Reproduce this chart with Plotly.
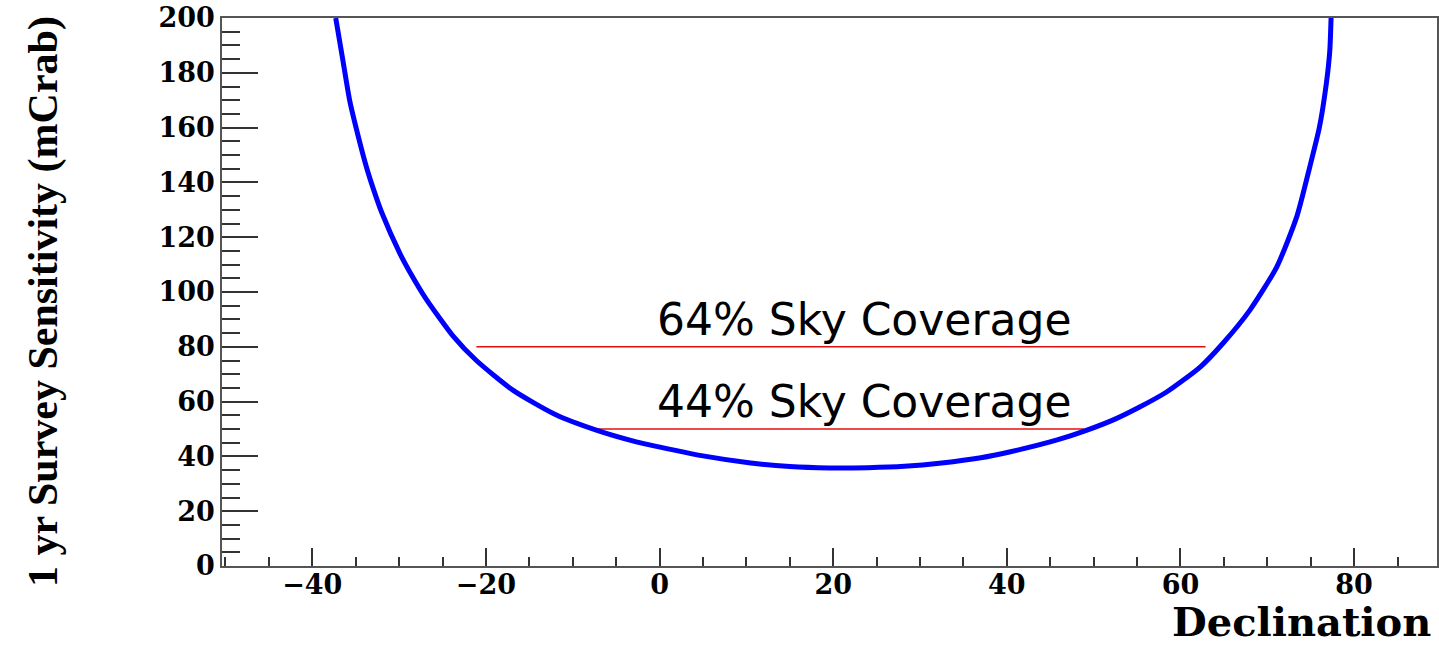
import plotly.graph_objects as go

# Sensitivity curve
declination = [-37.3, -36.5, -35.7, -34.8, -33.8, -32.9, -32.0, -29.9, -28.8, -26.9,
               -23.8, -21.1, -16.9, -12.0, -7.2, -3.0, 1.7, 5.0,
               10.5, 15.0, 19.5, 24.0, 28.2, 32.5, 37.0, 40.3, 45.8, 49.0,
               52.4, 55.3, 58.4, 62.3, 64.9, 68.0, 71.1, 73.4, 74.9,
               76.0, 76.8, 77.2, 77.35]
sensitivity = [200, 185, 170, 158, 146, 137, 129, 114, 107.5, 97.5,
               84, 75, 64.2, 55.3, 49.5, 45.6, 42.3, 40.2,
               37.6, 36.3, 35.8, 35.9, 36.4, 37.6, 39.5, 41.6, 46.0, 49.3,
               53.5, 58.0, 63.5, 72.7, 81.3, 93.4, 109.2, 127.5, 145.7,
               160.0, 176.0, 188.0, 200.0]

# Sky-coverage reference lines
cov64_x = [-21.1, 62.9]
cov64_y = [80, 80]
cov44_x = [-7.1, 48.9]
cov44_y = [50, 50]
labels = ["64% Sky Coverage", "44% Sky Coverage"]
label_x = [23.5, 23.6]
label_y = [90.0, 60.0]

x_ticks = [-40, -20, 0, 20, 40, 60, 80]
y_ticks = [0, 20, 40, 60, 80, 100, 120, 140, 160, 180, 200]

fig = go.Figure()
fig.add_trace(go.Scatter(x=cov64_x, y=cov64_y, mode="lines",
                         line=dict(color="#e01010", width=1.5), showlegend=False))
fig.add_trace(go.Scatter(x=cov44_x, y=cov44_y, mode="lines",
                         line=dict(color="#e01010", width=1.5), showlegend=False))
fig.add_trace(go.Scatter(x=declination, y=sensitivity, mode="lines",
                         line=dict(color="#0000ff", width=5, shape="spline", smoothing=0.6),
                         showlegend=False))

for t, xx, yy in zip(labels, label_x, label_y):
    fig.add_annotation(x=xx, y=yy, xref="x", yref="y", text=t, showarrow=False,
                       xanchor="center", yanchor="middle",
                       font=dict(family="DejaVu Sans", size=44, color="black"))

fig.add_annotation(x=1, y=0, xref="paper", yref="paper", text="Declination",
                   showarrow=False, xanchor="right", yanchor="middle",
                   xshift=-4, yshift=-55,
                   font=dict(family="DejaVu Serif", size=40, color="black", weight="bold"))
fig.add_annotation(x=0, y=0.4818, xref="paper", yref="paper",
                   text="1 yr Survey Sensitivity (mCrab)", showarrow=False,
                   textangle=-90, xanchor="center", yanchor="middle", xshift=-178,
                   font=dict(family="Liberation Serif", size=42, color="black", weight="bold"))

axis_font = dict(family="DejaVu Serif", size=27, color="black", weight="bold")
fig.update_xaxes(range=[-50.4, 89.55], tickvals=x_ticks, ticks="inside", ticklen=18,
                 tickwidth=1.5, tickcolor="#333", showline=True, linecolor="#555",
                 linewidth=1.5, mirror=True, showgrid=False, zeroline=False,
                 tickfont=axis_font, automargin=False, ticklabelstandoff=-6,
                 minor=dict(dtick=5, tick0=0, ticks="inside", ticklen=9,
                            tickwidth=1.5, tickcolor="#333", showgrid=False))
fig.update_yaxes(range=[0, 200], tickvals=y_ticks, ticks="inside", ticklen=36,
                 tickwidth=1.5, tickcolor="#333", showline=True, linecolor="#555",
                 linewidth=1.5, mirror=True, showgrid=False, zeroline=False,
                 tickfont=axis_font, automargin=False,
                 minor=dict(dtick=5, tick0=0, ticks="inside", ticklen=18,
                            tickwidth=1.5, tickcolor="#333", showgrid=False))

fig.update_layout(width=1439, height=645, plot_bgcolor="white", paper_bgcolor="white",
                  margin=dict(l=222, r=2, t=18, b=79, autoexpand=False), showlegend=False)

fig.write_html("out.html", config={"displayModeBar": False},
               post_script="document.body.style.margin='0px';document.body.style.overflow='hidden';")
